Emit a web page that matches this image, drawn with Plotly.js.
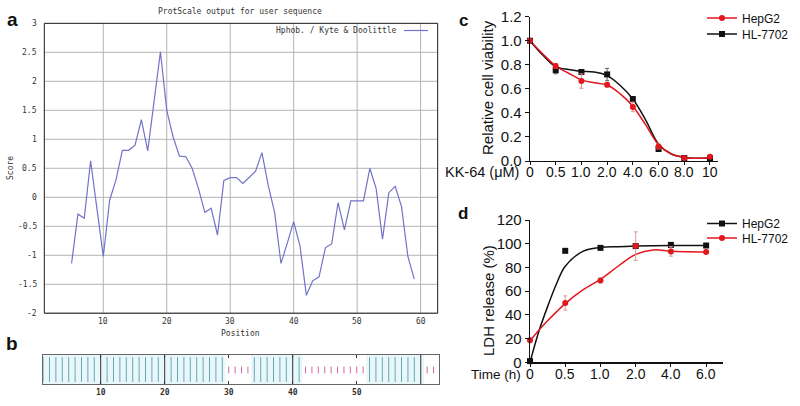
<!DOCTYPE html>
<html>
<head>
<meta charset="utf-8">
<script src="https://cdn.plot.ly/plotly-3.0.1.min.js"></script>
<style>html,body{margin:0;padding:0;background:#fff;}#chart{width:800px;height:406px;}#ov{position:absolute;left:0;top:0;width:800px;height:406px;pointer-events:none;background:rgba(255,255,255,0.004);color:transparent;font-size:9px;}</style>
</head>
<body>
<div id="chart"></div>
<div id="ov"></div>
<script>
// ---------- Panel a: ProtScale hydrophobicity (Kyte & Doolittle) ----------
const protPos = [5,6,7,8,9,10,11,12,13,14,15,16,17,18,19,20,21,22,23,24,25,26,27,28,29,30,31,32,33,34,35,36,37,38,39,40,41,42,43,44,45,46,47,48,49,50,51,52,53,54,55,56,57,58,59];
const protScore = [-1.14,-0.29,-0.36,0.63,-0.2,-1.02,-0.05,0.3,0.81,0.81,0.9,1.34,0.8,1.65,2.51,1.5,1.04,0.71,0.7,0.5,0.15,-0.26,-0.19,-0.65,0.29,0.34,0.34,0.24,0.35,0.45,0.77,0.2,-0.26,-1.14,-0.79,-0.42,-0.84,-1.69,-1.44,-1.37,-0.87,-0.8,-0.09,-0.56,-0.06,-0.06,-0.06,0.5,0.15,-0.72,0.08,0.19,-0.16,-1.02,-1.41];
const protYTicks = [-2,-1.5,-1,-0.5,0,0.5,1,1.5,2,2.5,3];
const protYTickText = ['-2','-1.5','-1','-0.5','0','0.5','1','1.5','2','2.5','3'];
const protXTicks = [10,20,30,40,50,60];
const protXTickText = ['10','20','30','40','50','60'];

// ---------- Panel b: residue map (hydrophobic / hydrophilic runs) ----------
const bHydrophobicRuns = [[1,29],[34,41],[52,60]];
const bHydrophilicRuns = [[30,33],[42,51],[61,62]];
const bXTicks = [10,20,30,40,50];

// ---------- Panel c: cell viability vs KK-64 ----------
const concLabels = ['0','0.5','1.0','2.0','4.0','6.0','8.0','10'];
const hepg2Viab = [1.0,0.79,0.665,0.635,0.45,0.12,0.025,0.035];
const hepg2ViabErr = [0.01,0.02,0.06,0.02,0.04,0.02,0.01,0.01];
const hl7702Viab = [1.0,0.755,0.74,0.72,0.515,0.10,0.025,0.025];
const hl7702ViabErr = [0.01,0.03,0.01,0.05,0.02,0.01,0.01,0.01];
const viabFitIdx = [0,0.5,1,1.5,2,2.5,3,3.5,4,4.5,5,5.5,6,6.5,7];
const hepg2ViabFit = [1.0,0.89,0.79,0.73,0.675,0.65,0.632,0.56,0.455,0.3,0.135,0.058,0.03,0.022,0.03];
const hl7702ViabFit = [1.0,0.88,0.785,0.76,0.745,0.74,0.71,0.63,0.515,0.34,0.14,0.058,0.03,0.022,0.025];

// ---------- Panel d: LDH release vs time ----------
const timeLabels = ['0','0.5','1.0','2.0','4.0','6.0'];
const hepg2LDH = [1,94,96.5,98,99,98.5];
const hepg2LDHErr = [0.5,0.8,1,1,1,1];
const hl7702LDH = [18.5,50,69,98,93.5,93];
const hl7702LDHErr = [2,6,2,12,4,1.5];
const ldhFitIdx = [0,0.25,0.5,0.75,1,1.5,2,2.5,3,3.5,4,4.5,5];
const hepg2LDHFit = [0,26,47,66,81,93.5,96.8,97.5,98,98.3,98.5,98.5,98.5];
const hl7702LDHFit = [18,27,35,42.5,49.5,61,70,81,91,94.8,93.6,93.2,93];

// ---------- helpers ----------
const W = 800, H = 406;
const px = v => v / W;
const py = v => 1 - v / H;
const idx = arr => arr.map((_, i) => i);
const expandRuns = runs => { const out = []; runs.forEach(r => { for (let p = r[0]; p <= r[1]; p++) out.push(p); }); return out; };
const segs = (positions, y0, y1) => { const x = [], y = []; positions.forEach(p => { x.push(p, p, null); y.push(y0, y1, null); }); return {x, y}; };

const RED = '#e3161e', BLACK = '#111111', BLUE = '#7272c8', GRID = '#b4b4b4';
const MONO = 'DejaVu Sans Mono', SANS = 'Liberation Sans, Arial, sans-serif';
const mono = () => ({family: MONO, size: 8, color: '#333'});
const sans = (s) => ({family: SANS, size: s, color: '#111'});

// panel a axis ranges (gnuplot-style frame + grid drawn through the axes)
const aXRange = [0.7, 62.7], aYRange = [-2, 3];
const gridX = [], gridY = [];
protXTicks.forEach(v => { gridX.push(v, v, null); gridY.push(aYRange[0], aYRange[1], null); });
protYTicks.forEach(v => { gridX.push(aXRange[0], aXRange[1], null); gridY.push(v, v, null); });
const frameX = [aXRange[0], aXRange[1], aXRange[1], aXRange[0], aXRange[0]];
const frameY = [aYRange[0], aYRange[0], aYRange[1], aYRange[1], aYRange[0]];

const hydPos = expandRuns(bHydrophobicRuns);
const hydTeal = segs(hydPos.filter(p => p % 10 !== 0), 0.08, 0.92);
const hydDark = segs(hydPos.filter(p => p % 10 === 0), 0.0, 1.0);
const philPink = segs(expandRuns(bHydrophilicRuns), 0.37, 0.6);

const traces = [
  // panel a grid, frame and profile
  {x: gridX, y: gridY, xaxis: 'x', yaxis: 'y', mode: 'lines', line: {color: GRID, width: 1}, showlegend: false, cliponaxis: false},
  {x: frameX, y: frameY, xaxis: 'x', yaxis: 'y', mode: 'lines', line: {color: '#333333', width: 1}, showlegend: false, cliponaxis: false},
  {x: protPos, y: protScore, xaxis: 'x', yaxis: 'y', mode: 'lines', line: {color: BLUE, width: 1.2}, showlegend: false},
  // panel b
  {x: hydTeal.x, y: hydTeal.y, xaxis: 'x2', yaxis: 'y2', mode: 'lines', line: {color: '#6aa6b8', width: 1}, showlegend: false},
  {x: hydDark.x, y: hydDark.y, xaxis: 'x2', yaxis: 'y2', mode: 'lines', line: {color: '#333333', width: 1}, showlegend: false},
  {x: philPink.x, y: philPink.y, xaxis: 'x2', yaxis: 'y2', mode: 'lines', line: {color: '#d2679e', width: 1}, showlegend: false},
  // panel c fits
  {x: viabFitIdx, y: hl7702ViabFit, xaxis: 'x3', yaxis: 'y3', mode: 'lines', line: {color: BLACK, width: 1.5, shape: 'spline', smoothing: 1}, showlegend: false},
  {x: viabFitIdx, y: hepg2ViabFit, xaxis: 'x3', yaxis: 'y3', mode: 'lines', line: {color: RED, width: 1.5, shape: 'spline', smoothing: 1}, showlegend: false},
  // panel c points
  {x: idx(hl7702Viab), y: hl7702Viab, xaxis: 'x3', yaxis: 'y3', mode: 'markers', marker: {symbol: 'square', size: 6, color: BLACK}, error_y: {type: 'data', array: hl7702ViabErr, color: '#666', thickness: 1, width: 2}, showlegend: false, cliponaxis: false},
  {x: idx(hepg2Viab), y: hepg2Viab, xaxis: 'x3', yaxis: 'y3', mode: 'markers', marker: {symbol: 'circle', size: 6, color: RED}, error_y: {type: 'data', array: hepg2ViabErr, color: '#d98a8a', thickness: 1, width: 2}, showlegend: false, cliponaxis: false},
  // panel c legend entries
  {x: [null], y: [null], xaxis: 'x3', yaxis: 'y3', name: 'HepG2', mode: 'lines+markers', line: {color: RED, width: 1.5}, marker: {symbol: 'circle', size: 6, color: RED}, legend: 'legend'},
  {x: [null], y: [null], xaxis: 'x3', yaxis: 'y3', name: 'HL-7702', mode: 'lines+markers', line: {color: BLACK, width: 1.5}, marker: {symbol: 'square', size: 6, color: BLACK}, legend: 'legend2'},
  // panel d fits
  {x: ldhFitIdx, y: hepg2LDHFit, xaxis: 'x4', yaxis: 'y4', mode: 'lines', line: {color: BLACK, width: 1.5, shape: 'spline', smoothing: 1}, showlegend: false},
  {x: ldhFitIdx, y: hl7702LDHFit, xaxis: 'x4', yaxis: 'y4', mode: 'lines', line: {color: RED, width: 1.5, shape: 'spline', smoothing: 1}, showlegend: false},
  // panel d points
  {x: idx(hepg2LDH), y: hepg2LDH, xaxis: 'x4', yaxis: 'y4', mode: 'markers', marker: {symbol: 'square', size: 6, color: BLACK}, error_y: {type: 'data', array: hepg2LDHErr, color: '#666', thickness: 1, width: 2}, showlegend: false, cliponaxis: false},
  {x: idx(hl7702LDH), y: hl7702LDH, xaxis: 'x4', yaxis: 'y4', mode: 'markers', marker: {symbol: 'circle', size: 6, color: RED}, error_y: {type: 'data', array: hl7702LDHErr, color: '#d99a9a', thickness: 1, width: 2}, showlegend: false, cliponaxis: false},
  // panel d legend entries
  {x: [null], y: [null], xaxis: 'x4', yaxis: 'y4', name: 'HepG2', mode: 'lines+markers', line: {color: BLACK, width: 1.5}, marker: {symbol: 'square', size: 6, color: BLACK}, legend: 'legend3'},
  {x: [null], y: [null], xaxis: 'x4', yaxis: 'y4', name: 'HL-7702', mode: 'lines+markers', line: {color: RED, width: 1.5}, marker: {symbol: 'circle', size: 6, color: RED}, legend: 'legend4'}
];

const shapes = [];
// panel a frame, also as an axis-domain shape
shapes.push({type: 'rect', xref: 'x domain', yref: 'y domain', x0: 0, x1: 1, y0: 0, y1: 1, line: {color: '#333333', width: 1}, fillcolor: 'rgba(0,0,0,0)', layer: 'above'});
// panel b background tint for hydrophobic runs
bHydrophobicRuns.forEach(r => shapes.push({type: 'rect', xref: 'x2', yref: 'y2', x0: r[0] - 0.5, x1: r[1] + 0.5, y0: 0, y1: 1, fillcolor: '#e7f7fa', line: {width: 0}, layer: 'below'}));
// panel a legend sample
shapes.push({type: 'line', xref: 'paper', yref: 'paper', x0: px(404), x1: px(428), y0: py(30.5), y1: py(30.5), line: {color: BLUE, width: 1.2}});

const ann = (text, x, y, extra) => Object.assign({text, x: px(x), y: py(y), xref: 'paper', yref: 'paper', showarrow: false, xanchor: 'center', yanchor: 'middle'}, extra || {});

const annotations = [
  ann('ProtScale output for user sequence', 240, 11, {font: mono()}),
  ann('Hphob. / Kyte &amp; Doolittle', 399, 30.5, {xanchor: 'right', font: mono()}),
  ann('Score', 11, 168, {textangle: -90, font: mono()}),
  ann('Position', 240, 333, {font: mono()}),
  ann('<b>a</b>', 12, 19, {font: sans(19)}),
  ann('<b>b</b>', 12, 343, {font: sans(19)}),
  ann('<b>c</b>', 463, 20, {font: sans(17)}),
  ann('<b>d</b>', 463, 213, {font: sans(17)}),
  ann('Relative cell viability', 488, 88, {textangle: -90, font: sans(15)}),
  ann('LDH release (%)', 488, 301, {textangle: -90, font: sans(15)}),
  ann('KK-64 (μM)', 521, 172.5, {xanchor: 'right', font: sans(14.5)}),
  ann('Time (h)', 523, 374.5, {xanchor: 'right', font: sans(13.5)})
];
// panel a tick labels, placed through its axes
protXTicks.forEach((v, i) => annotations.push({text: protXTickText[i], x: v, xref: 'x', y: py(321.7), yref: 'paper', showarrow: false, xanchor: 'center', yanchor: 'middle', font: mono()}));
protYTicks.forEach((v, i) => annotations.push({text: protYTickText[i], x: px(39), xref: 'paper', y: v, yref: 'y', showarrow: false, xanchor: 'right', yanchor: 'middle', font: mono()}));
// category tick labels of panels c and d, placed through their own x axes
concLabels.forEach((t, i) => annotations.push({text: t, x: i, xref: 'x3', y: py(172), yref: 'paper', showarrow: false, xanchor: 'center', yanchor: 'middle', font: sans(14)}));
timeLabels.forEach((t, i) => annotations.push({text: t, x: i, xref: 'x4', y: py(374.3), yref: 'paper', showarrow: false, xanchor: 'center', yanchor: 'middle', font: sans(14)}));

const sciAxis = (extra) => Object.assign({ticks: 'outside', tickcolor: '#111', showline: true, linecolor: '#111', linewidth: 1.3, showgrid: false, zeroline: false}, extra);
const leg = (x, y) => ({x: px(x), y: py(y), xanchor: 'left', yanchor: 'middle', bgcolor: 'rgba(0,0,0,0)', font: sans(12), itemwidth: 30});
const bare = {showline: false, showgrid: false, zeroline: false, ticks: '', showticklabels: false};

const layout = {
  width: W, height: H,
  margin: {l: 0, r: 0, t: 0, b: 0},
  paper_bgcolor: '#ffffff', plot_bgcolor: '#ffffff',
  showlegend: true,
  xaxis: Object.assign({domain: [px(44.3), px(437.7)], anchor: 'y', range: aXRange}, bare),
  yaxis: Object.assign({domain: [py(313.3), py(23.3)], anchor: 'x', range: aYRange}, bare),
  xaxis2: {domain: [px(42.7), px(439.3)], anchor: 'y2', range: [0.94, 62.9], tickmode: 'array', tickvals: bXTicks, ticks: 'inside', ticklen: 3, tickcolor: '#333', mirror: 'ticks', showline: true, linecolor: '#666', linewidth: 1, showgrid: false, zeroline: false, tickfont: {family: MONO, size: 8, color: '#333', weight: 'bold'}},
  yaxis2: {domain: [py(384.3), py(354.7)], anchor: 'x2', range: [0, 1], showticklabels: false, ticks: '', mirror: true, showline: true, linecolor: '#666', linewidth: 1, showgrid: false, zeroline: false},
  xaxis3: sciAxis({domain: [px(530), px(717.7)], anchor: 'y3', range: [0, 7.3], tickmode: 'array', tickvals: idx(concLabels), showticklabels: false, ticklen: 3}),
  yaxis3: sciAxis({domain: [py(161), py(16.7)], anchor: 'x3', range: [0, 1.2], dtick: 0.2, tickformat: '.1f', ticklen: 4, tickfont: sans(15)}),
  xaxis4: sciAxis({domain: [px(530), px(722.7)], anchor: 'y4', range: [0, 5.47], tickmode: 'array', tickvals: idx(timeLabels), showticklabels: false, ticklen: 3}),
  yaxis4: sciAxis({domain: [py(362.3), py(220)], anchor: 'x4', range: [0, 120], dtick: 20, ticklen: 4, tickfont: sans(15)}),
  legend: leg(702, 18),
  legend2: leg(702, 34),
  legend3: leg(702, 223.5),
  legend4: leg(702, 238),
  shapes, annotations
};

Plotly.newPlot('chart', traces, layout, {displayModeBar: false, staticPlot: true}).then(gd => {
  // force a full repaint of the page area once drawing is done
  const ov = document.getElementById('ov');
  ov.textContent = 'ready ' + Object.keys(gd._fullLayout._plots).length;
  const c = document.getElementById('chart');
  c.style.opacity = '0.999';
  requestAnimationFrame(() => { c.style.opacity = '1'; ov.style.background = 'rgba(255,255,255,0.003)'; });
});
</script>
</body>
</html>
